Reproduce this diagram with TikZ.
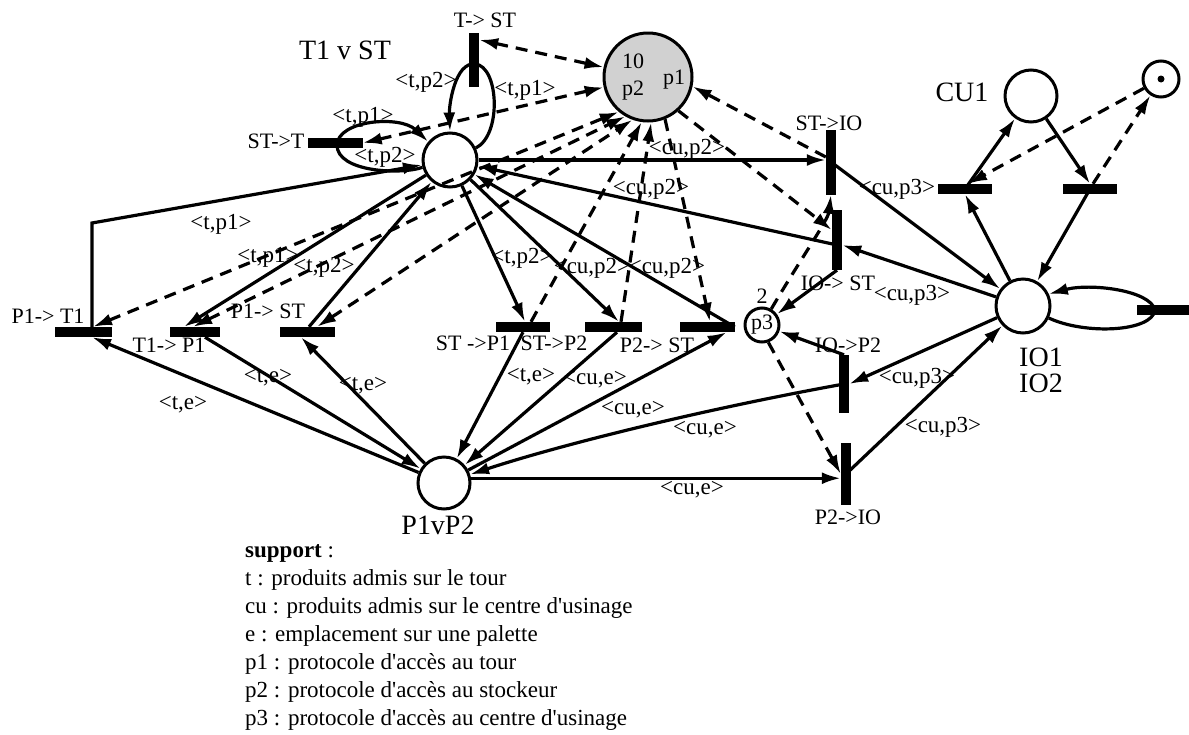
\documentclass[tikz,border=0pt]{standalone}
\usepackage{fontspec}
\setmainfont{Liberation Serif}
\usetikzlibrary{arrows.meta}
\begin{document}
\begin{tikzpicture}[x=1pt,y=-1pt,
  >={Latex[length=19pt,width=12pt]},
  place/.style={circle,draw,line width=3pt,fill=white,inner sep=0pt},
  hbar/.style={fill=black,inner sep=0pt,minimum width=54pt,minimum height=10pt},
  vbar/.style={fill=black,inner sep=0pt,minimum width=10pt,minimum height=60pt},
  arc/.style={line width=3.2pt},
  dline/.style={line width=3.2pt,dash pattern=on 12pt off 8pt},
  lbl/.style={font=\fontsize{23}{25}\selectfont,inner sep=0pt},
  tlbl/.style={font=\fontsize{22}{24}\selectfont,inner sep=0pt},
  plbl/.style={font=\fontsize{28}{26}\selectfont,inner sep=0pt,align=center},
  leg/.style={font=\fontsize{23}{28}\selectfont,inner sep=0pt,anchor=base west},
]
\useasboundingbox (0,0) rectangle (1189,734);

% places
\node[place,minimum size=54pt] (tst) at (450,160) {};
\node[place,minimum size=88pt,fill=black!18] (res) at (648,77) {};
\node[place,minimum size=52pt] (cu) at (1031,96) {};
\node[place,minimum size=36pt] (tok) at (1161,79) {};
\fill (tok.center) circle (3.5);
\node[place,minimum size=54pt] (io) at (1023,306) {};
\node[place,minimum size=52pt] (pp) at (444,483) {};
\node[place,minimum size=34pt,font=\fontsize{22}{24}\selectfont] (pt) at (762,325) {p3};

% transitions
\node[vbar,minimum height=54pt] (tts) at (474,60) {};
\node[hbar,minimum width=55pt] (stt) at (335,143) {};
\node[vbar,minimum height=65pt] (stio) at (831,162) {};
\node[vbar,minimum height=60pt] (iost) at (837,240) {};
\node[vbar,minimum height=58pt] (iop2) at (844,384) {};
\node[vbar,minimum height=62pt] (p2io) at (846,474) {};
\node[hbar,minimum width=52pt] (lpt) at (1163,310) {};
\node[hbar] (cul) at (965,189) {};
\node[hbar] (cur) at (1090,189) {};
\node[hbar,minimum width=57pt] (p1t1) at (83,332) {};
\node[hbar,minimum width=50pt] (t1p1) at (195,332) {};
\node[hbar,minimum width=55pt] (p1st) at (307,332) {};
\node[hbar] (stp1) at (523,327) {};
\node[hbar,minimum width=57pt] (stp2) at (613,327) {};
\node[hbar,minimum width=55pt] (p2st) at (707,327) {};

% self loops on T1 v ST
\coordinate (tstop) at (475,64);
\draw[arc,->] (tstop) .. controls (455,62) and (449,105) .. (tst.north);
\draw[arc] (tst.25) .. controls (502,135) and (499,66) .. (tstop);
\coordinate (sttl) at (337,145);
\draw[arc,->] (sttl) .. controls (338,120) and (400,115) .. (tst.140);
\draw[arc] (tst.195) .. controls (400,175) and (337,172) .. (sttl);

% arcs around T1 v ST
\coordinate (bend) at (92,223);
\draw[arc,->] (p1t1.north -| bend) -- (bend) -- (tst);
\draw[arc,->] (tst) -- ([xshift=-11pt]t1p1.north);
\draw[arc,->] ([xshift=2pt]p1st.north) -- (tst);
\draw[arc,->] (tst) -- ([xshift=2pt]stp1.north);
\draw[arc,->] (tst) -- ([xshift=6pt]stp2.north);
\draw[arc,->] (p2st.east) -- (tst);
\draw[arc,->] (tst.east) -- (tst.east -| stio.west);
\draw[arc,->] ([yshift=-5pt]iost.center) -- (tst);

% arcs around IO1 IO2
\draw[arc,->] (stio.center) -- (io);
\draw[arc,->] (io) -- ([yshift=-5pt]iost.east);
\draw[arc,->] (io) -- (iop2.east);
\draw[arc,->] (p2io.center) -- (io);
\draw[arc,->] (cul.center) -- (cu);
\draw[arc,->] (cu) -- (cur.north);
\draw[arc,->] (io) -- (cul.south);
\draw[arc,->] (cur.center) -- (io);
\coordinate (lpl) at (1155,310);
\draw[arc,->] (lpl) .. controls (1150,290) and (1090,283) .. (io.25);
\draw[arc] (io.-25) .. controls (1085,335) and (1152,332) .. (lpl);

% arcs around P1vP2
\draw[arc,->] (pp) -- ([xshift=9pt]p1t1.south);
\draw[arc,->] ([xshift=10pt]t1p1.south) -- (pp);
\draw[arc,->] (pp) -- ([xshift=-6pt]p1st.south);
\draw[arc,->] (stp1.south) -- (pp);
\draw[arc,->] ([xshift=4pt]stp2.south) -- (pp);
\draw[arc,->] (pp) -- ([xshift=-8pt]p2st.south east);
\draw[arc,->] (iop2.center) .. controls (700,410) and (560,445) .. (pp);
\draw[arc,->] (pp.10) -- (pp.10 -| p2io.west);

% arcs into p3
\draw[arc,->] (iost.south) -- (pt);
\draw[arc,->] (iop2.north) -- (pt);

% protocol arcs (dashed)
\draw[dline,<->] ([yshift=-7pt]tts.north east) -- (res);
\draw[dline,<->] (stt.east) -- (res);
\draw[dline,<->] ([xshift=10pt]p1t1.north) -- (res.230);
\draw[dline,<->] ([xshift=-2pt]t1p1.north) -- (res.240);
\draw[dline,<->] ([xshift=10pt]p1st.north) -- (res.250);
\draw[dline,->] ([xshift=8pt]stp1.north) -- (res.262);
\draw[dline,->] ([xshift=8pt]stp2.north) -- (res.274);
\draw[dline,->] (res.292) -- ([xshift=3pt]p2st.north);
\draw[dline,->] (res.312) -- ([yshift=10pt]iost.west);
\draw[dline,->] ([yshift=5pt]stio.west) -- (res.-12);
\draw[dline,->] (pt.60) .. controls (800,260) and (828,220) .. (stio.south);
\draw[dline,->] (pt.-70) -- (p2io.west);
\draw[dline,->] (tok) -- ([xshift=3pt]cul.north);
\draw[dline,->] ([xshift=3pt]cur.north) -- (tok);

% place names and marking
\node[plbl] at (345,50) {T1 v ST};
\node[plbl] at (962,92) {CU1};
\node[plbl] at (1041,370) {IO1\\IO2};
\node[plbl] at (438,525) {P1vP2};
\node[tlbl] at (633,61) {10};
\node[tlbl] at (633,91) {p2};
\node[tlbl] at (674,80) {p1};
\node[tlbl] at (762,296) {2};

% transition names
\node[tlbl] at (485,20) {T-> ST};
\node[tlbl] at (276,141) {ST->T};
\node[tlbl] at (829,123) {ST->IO};
\node[tlbl] at (48,316) {P1-> T1};
\node[tlbl] at (169,345) {T1-> P1};
\node[tlbl] at (268,311) {P1-> ST};
\node[tlbl] at (473,343) {ST ->P1};
\node[tlbl] at (554,343) {ST->P2};
\node[tlbl] at (657,345) {P2-> ST};
\node[tlbl] at (838,283) {IO-> ST};
\node[tlbl] at (848,345) {IO->P2};
\node[tlbl] at (848,517) {P2->IO};

% arc inscriptions
\node[lbl] at (426,82) {<t,p2>};
\node[lbl] at (525,90) {<t,p1>};
\node[lbl] at (363,117) {<t,p1>};
\node[lbl] at (385,157) {<t,p2>};
\node[lbl] at (221,224) {<t,p1>};
\node[lbl] at (268,257) {<t,p1>};
\node[lbl] at (324,267) {<t,p2>};
\node[lbl] at (522,258) {<t,p2>};
\node[lbl] at (592,268) {<cu,p2>};
\node[lbl] at (667,268) {<cu,p2>};
\node[lbl] at (687,149) {<cu,p2>};
\node[lbl] at (651,189) {<cu,p2>};
\node[lbl] at (897,189) {<cu,p3>};
\node[lbl] at (912,295) {<cu,p3>};
\node[lbl] at (917,378) {<cu,p3>};
\node[lbl] at (943,427) {<cu,p3>};
\node[lbl] at (183,405) {<t,e>};
\node[lbl] at (268,378) {<t,e>};
\node[lbl] at (363,386) {<t,e>};
\node[lbl] at (531,377) {<t,e>};
\node[lbl] at (595,380) {<cu,e>};
\node[lbl] at (633,410) {<cu,e>};
\node[lbl] at (705,430) {<cu,e>};
\node[lbl] at (692,490) {<cu,e>};

% legend
\node[leg] at (245,557) {\textbf{support} :};
\node[leg] at (245,585) {t : produits admis sur le tour};
\node[leg] at (245,613) {cu : produits admis sur le centre d\textquotesingle usinage};
\node[leg] at (245,641) {e : emplacement sur une palette};
\node[leg] at (245,669) {p1 : protocole d\textquotesingle accès au tour};
\node[leg] at (245,697) {p2 : protocole d\textquotesingle accès au stockeur};
\node[leg] at (245,725) {p3 : protocole d\textquotesingle accès au centre d\textquotesingle usinage};
\end{tikzpicture}
\end{document}
